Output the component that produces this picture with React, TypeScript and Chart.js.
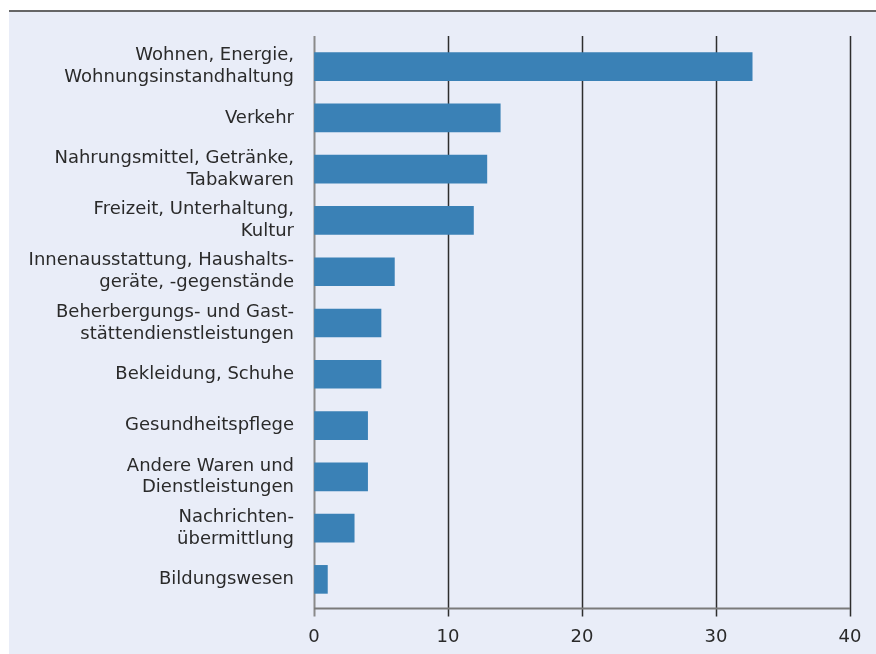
import React, { useEffect, useRef } from "react";
import { Chart, registerables } from "chart.js";

Chart.register(...registerables);

const categories: string[][] = [
  ["Wohnen, Energie,", "Wohnungsinstandhaltung"],
  ["Verkehr"],
  ["Nahrungsmittel, Getränke,", "Tabakwaren"],
  ["Freizeit, Unterhaltung,", "Kultur"],
  ["Innenausstattung, Haushalts-", "geräte, -gegenstände"],
  ["Beherbergungs- und Gast-", "stättendienstleistungen"],
  ["Bekleidung, Schuhe"],
  ["Gesundheitspflege"],
  ["Andere Waren und", "Dienstleistungen"],
  ["Nachrichten-", "übermittlung"],
  ["Bildungswesen"],
];

const values: number[] = [32.7, 13.9, 12.9, 11.9, 6.0, 5.0, 5.0, 4.0, 4.0, 3.0, 1.0];

const xTicks: number[] = [0, 10, 20, 30, 40];

const FONT = "'DejaVu Sans', sans-serif";
const TEXT = "#2a2a2a";

const framePlugin = {
  id: "frame",
  beforeDraw(chart: any) {
    const { ctx, width, height } = chart;
    ctx.save();
    ctx.fillStyle = "#ffffff";
    ctx.fillRect(0, 0, width, height);
    ctx.fillStyle = "#e9edf8";
    ctx.fillRect(9, 11, width - 9, height - 11);
    ctx.strokeStyle = "#666666";
    ctx.lineWidth = 2;
    ctx.beginPath();
    ctx.moveTo(9, 11);
    ctx.lineTo(width, 11);
    ctx.stroke();
    ctx.restore();
  },
  beforeDatasetsDraw(chart: any) {
    const { ctx, chartArea } = chart;
    const xs = chart.scales.x;
    const axisY = chartArea.bottom + 3.5;
    ctx.save();
    xTicks.forEach((v) => {
      const px = Math.round(xs.getPixelForValue(v)) + 0.5;
      ctx.beginPath();
      if (v === 0) {
        ctx.strokeStyle = "#8a8a8a";
        ctx.lineWidth = 2;
      } else {
        ctx.strokeStyle = "#2e2e2e";
        ctx.lineWidth = 1.5;
      }
      ctx.moveTo(px, chartArea.top - 5);
      ctx.lineTo(px, axisY + 8);
      ctx.stroke();
    });
    ctx.strokeStyle = "#7a7a7a";
    ctx.lineWidth = 2;
    ctx.beginPath();
    ctx.moveTo(xs.getPixelForValue(0), axisY);
    ctx.lineTo(xs.getPixelForValue(40), axisY);
    ctx.stroke();
    ctx.restore();
  },
};

export default function App() {
  const ref = useRef<HTMLCanvasElement | null>(null);

  useEffect(() => {
    if (!ref.current) return;
    const chart = new Chart(ref.current, {
      type: "bar",
      data: {
        labels: categories,
        datasets: [
          {
            data: values,
            backgroundColor: "#3a81b6",
            borderWidth: 0,
            barThickness: 28,
          },
        ],
      },
      options: {
        indexAxis: "y",
        animation: false,
        responsive: false,
        maintainAspectRatio: false,
        devicePixelRatio: 1,
        layout: { padding: { top: 41, right: 26, bottom: 0, left: 0 } },
        plugins: {
          legend: { display: false },
          tooltip: { enabled: false },
        },
        scales: {
          x: {
            type: "linear",
            min: 0,
            max: 40,
            afterBuildTicks(scale: any) {
              scale.ticks = xTicks.map((v) => ({ value: v }));
            },
            afterFit(scale: any) {
              scale.height = 49;
              scale.paddingLeft = 0;
              scale.paddingRight = 0;
            },
            grid: { display: true, drawOnChartArea: false, drawTicks: false, color: "rgba(0,0,0,0)" },
            border: { display: false },
            ticks: {
              color: TEXT,
              font: { family: FONT, size: 18 },
              padding: 22,
              maxRotation: 0,
            },
          },
          y: {
            type: "category",
            afterFit(scale: any) {
              scale.width = 314;
              scale.paddingTop = 0;
              scale.paddingBottom = 0;
            },
            grid: { display: false, drawTicks: false },
            border: { display: false },
            ticks: {
              color: TEXT,
              font: { family: FONT, size: 18, lineHeight: 1.22 },
              padding: 20,
              autoSkip: false,
            },
          },
        },
      },
      plugins: [framePlugin],
    });
    return () => chart.destroy();
  }, []);

  return (
    <div style={{ position: "absolute", left: 0, top: 0, width: 876, height: 654 }}>
      <canvas ref={ref} width={876} height={654} style={{ display: "block", width: 876, height: 654 }} />
    </div>
  );
}
